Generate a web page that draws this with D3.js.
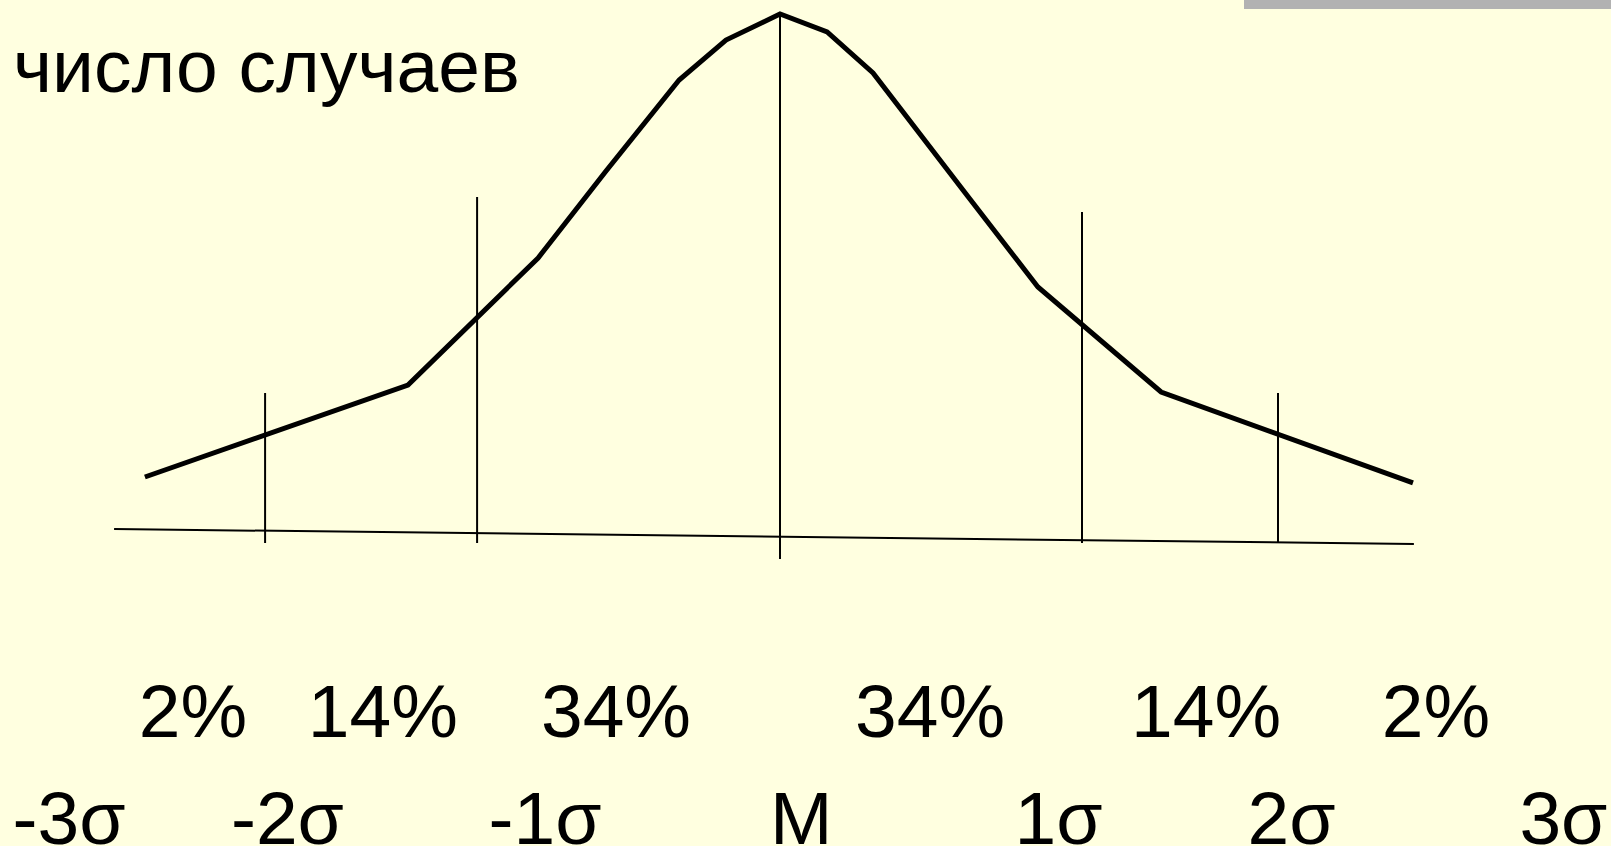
<html>

<head>
  <script src="https://d3js.org/d3.v7.min.js"></script>
  <style>
    body { margin: 0; background: #ffffe0; }
    text { font-family: "Liberation Sans", Arial, sans-serif; fill: black; }
  </style>
</head>

<body>
  <svg id="chart" width="1611" height="846"></svg>

  <script>
    // curve points: x in sigma units, y = relative number of cases (peak = 100)
    const curveX = [-2.103, -1.232, -0.801, -0.576, -0.334, -0.179, 0, 0.156, 0.308, 0.616, 0.854, 1.262, 2.096];
    const curveY = [11.47, 29.06, 53.35, 69.98, 87.38, 95.03, 100, 96.56, 88.72, 65.58, 47.8, 27.72, 10.33];

    // vertical marker lines
    const markerX = [-1.705, -1.003, 0, 1.0, 1.649];
    const markerTop = [27.53, 65.0, 100, 62.14, 27.53];
    const markerBottom = [-1.15, -1.15, -4.21, -1.15, -1.15];

    // the slightly tilted base line
    const baseX = [-2.205, 2.099];
    const baseY = [1.53, -1.34];

    const percentLabels = ["2%", "14%", "34%", "34%", "14%", "2%"];
    const percentX = [-1.944, -1.315, -0.543, 0.497, 1.411, 2.172];
    const percentRow = -38.24;

    const sigmaLabels = ["-3σ", "-2σ", "-1σ", "M", "1σ", "2σ", "3σ"];
    const sigmaX = [-2.354, -1.631, -0.778, 0.07, 0.922, 1.694, 2.594];
    const sigmaRow = -58.7;

    const yTitle = "число случаев";

    let svg = d3.select("svg#chart");
    const width = +svg.attr("width");
    const height = +svg.attr("height");

    const xScale = d3.scaleLinear().domain([-3, 3]).range([-126, 1686]);
    const yScale = d3.scaleLinear().domain([0, 100]).range([537, 14]);

    svg.append("rect")
      .attr("width", width)
      .attr("height", height)
      .attr("fill", "#ffffe0");

    // grey strip top right
    svg.append("rect")
      .attr("x", 1244)
      .attr("y", 0)
      .attr("width", width - 1244)
      .attr("height", 9)
      .attr("fill", "#b2b2b2");

    // base line
    svg.append("line")
      .attr("x1", xScale(baseX[0]))
      .attr("y1", yScale(baseY[0]))
      .attr("x2", xScale(baseX[1]))
      .attr("y2", yScale(baseY[1]))
      .style("stroke", "black")
      .style("stroke-width", 2);

    markerX.forEach((m, i) => {
      svg.append("line")
        .attr("x1", xScale(m))
        .attr("x2", xScale(m))
        .attr("y1", yScale(markerTop[i]))
        .attr("y2", yScale(markerBottom[i]))
        .style("stroke", "black")
        .style("stroke-width", 2);
    });

    const pts = curveX.map((x, i) => [x, curveY[i]]);
    const line = d3.line()
      .x(d => xScale(d[0]))
      .y(d => yScale(d[1]));

    svg.append("path")
      .datum(pts)
      .attr("d", line)
      .attr("fill", "none")
      .attr("stroke", "black")
      .attr("stroke-width", 5)
      .attr("stroke-linejoin", "miter");

    svg.append("text")
      .attr("x", 13)
      .attr("y", 92)
      .style("font-size", "75px")
      .text(yTitle);

    percentLabels.forEach((t, i) => {
      svg.append("text")
        .attr("x", xScale(percentX[i]))
        .attr("y", yScale(percentRow))
        .attr("text-anchor", "middle")
        .style("font-size", "75px")
        .text(t);
    });

    sigmaLabels.forEach((t, i) => {
      svg.append("text")
        .attr("x", xScale(sigmaX[i]))
        .attr("y", yScale(sigmaRow))
        .attr("text-anchor", "middle")
        .style("font-size", "75px")
        .text(t);
    });
  </script>
</body>

</html>
